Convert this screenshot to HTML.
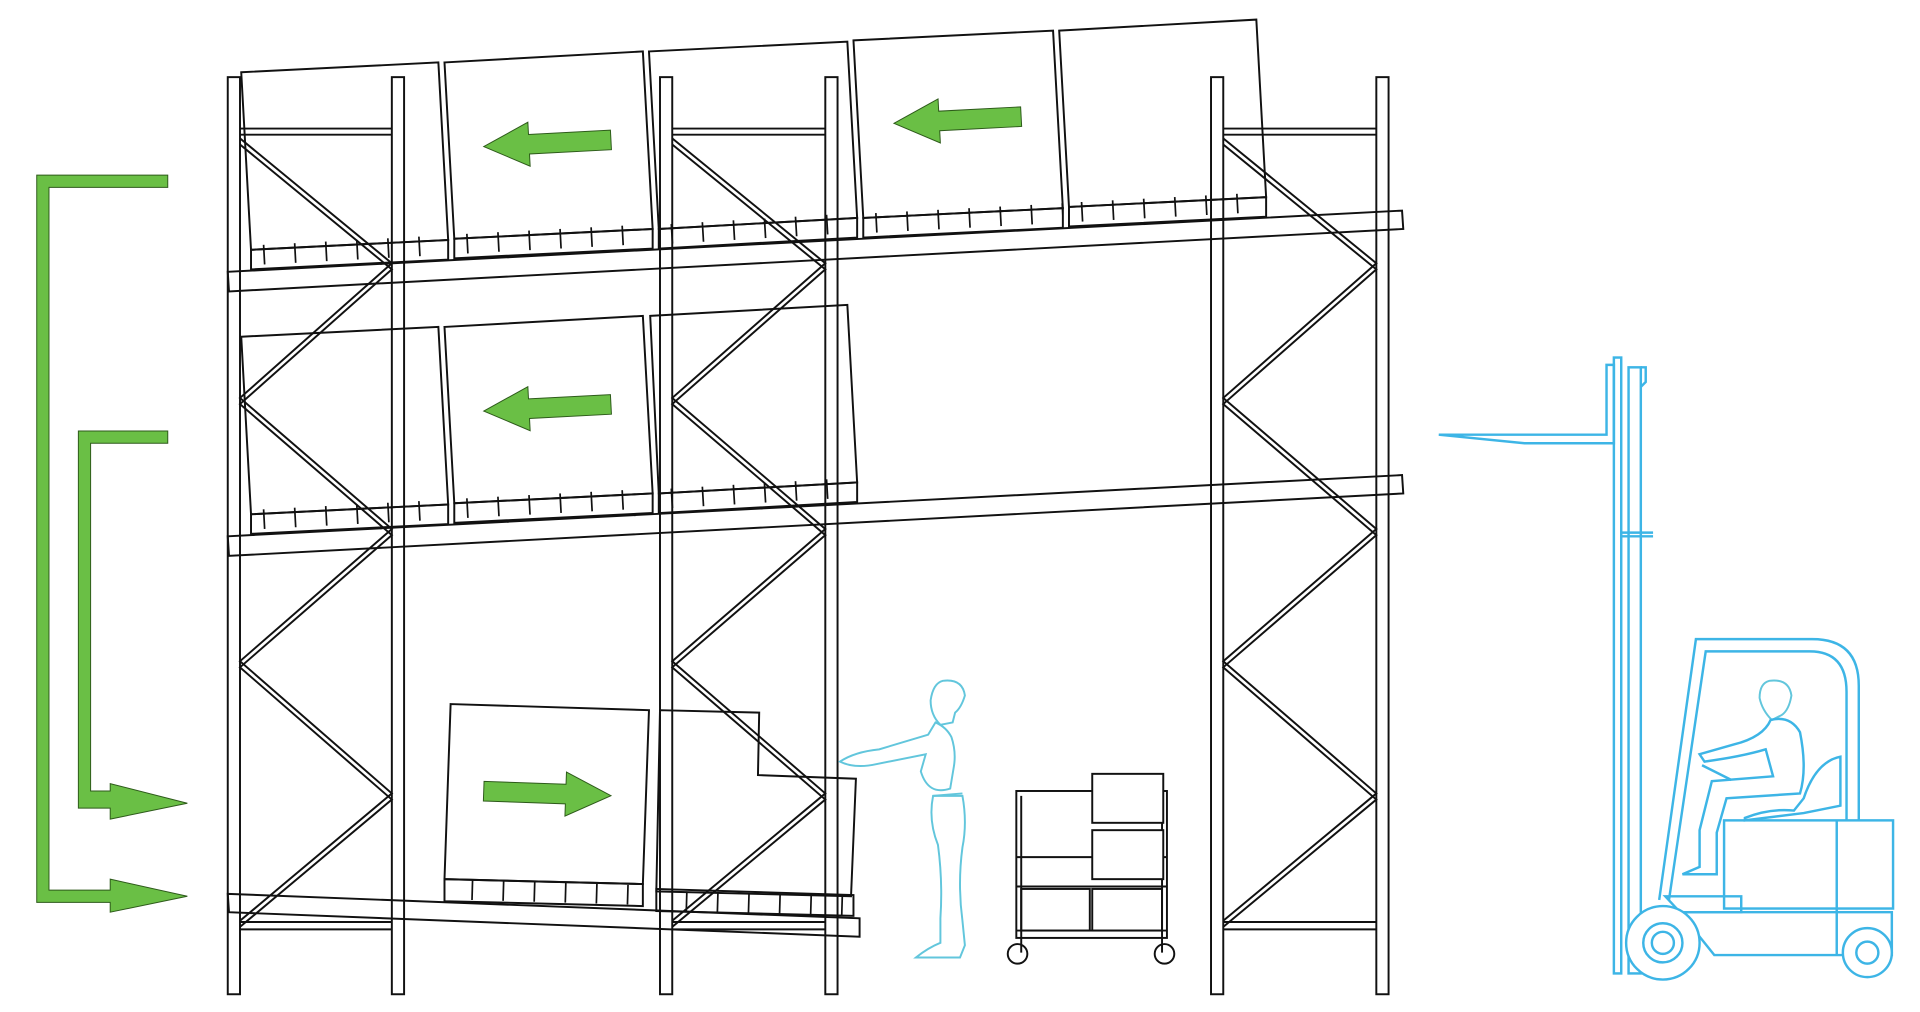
<!DOCTYPE html>
<html><head><meta charset="utf-8"><style>
html,body{margin:0;padding:0;background:#fff;width:1920px;height:1012px;overflow:hidden}
svg{display:block}
</style></head><body>
<svg width="1920" height="1012" viewBox="0 0 1568 826.5" preserveAspectRatio="none" xmlns="http://www.w3.org/2000/svg">
<g fill="none" stroke="#111" stroke-width="1.6">
<polyline points="196,113 320,215 196,325 320,432 196,540 320,648 196,752"/>
<polyline points="196,118 320,220 196,330 320,437 196,545 320,653 196,757"/>
<polyline points="549,113 674,215 549,325 674,432 549,540 674,648 549,752"/>
<polyline points="549,118 674,220 549,330 674,437 549,545 674,653 549,757"/>
<polyline points="999,113 1124,215 999,325 1124,432 999,540 1124,648 999,752"/>
<polyline points="999,118 1124,220 999,330 1124,437 999,545 1124,653 999,757"/>
<line x1="196" y1="105" x2="320" y2="105"/><line x1="196" y1="110" x2="320" y2="110"/>
<line x1="549" y1="105" x2="674" y2="105"/><line x1="549" y1="110" x2="674" y2="110"/>
<line x1="999" y1="105" x2="1124" y2="105"/><line x1="999" y1="110" x2="1124" y2="110"/>
<line x1="196" y1="753" x2="320" y2="753"/><line x1="196" y1="759" x2="320" y2="759"/>
<line x1="549" y1="753" x2="674" y2="753"/><line x1="549" y1="759" x2="674" y2="759"/>
<line x1="999" y1="753" x2="1124" y2="753"/><line x1="999" y1="759" x2="1124" y2="759"/>
<rect x="186" y="63" width="10" height="749"/><rect x="320" y="63" width="10" height="749"/>
<rect x="539" y="63" width="10" height="749"/><rect x="674" y="63" width="10" height="749"/>
<rect x="989" y="63" width="10" height="749"/><rect x="1124" y="63" width="10" height="749"/>
<polygon points="197,59 358,51 366,196 205,204"/>
<polygon points="363,51 525,42 533,187 371,195"/>
<polygon points="530,42 692,34 700,178 538,187"/>
<polygon points="697,33 860,25 868,170 705,178"/>
<polygon points="865,25 1026,16 1034,161 873,169"/>
<polygon points="205,204 366,196 366,212 205,220"/>
<polygon points="371,195 533,187 533,203 371,211"/>
<polygon points="538,187 700,178 700,194 538,203"/>
<polygon points="705,178 868,170 868,186 705,194"/>
<polygon points="873,169 1034,161 1034,177 873,185"/>
<polygon points="197,275 358,267 366,412 205,420"/>
<polygon points="363,267 525,258 533,403 371,411"/>
<polygon points="531,258 692,249 700,394 538,403"/>
<polygon points="205,420 366,412 366,428 205,436"/>
<polygon points="371,411 533,403 533,419 371,427"/>
<polygon points="538,403 700,394 700,410 538,419"/>
<polygon points="186,222 1145,172 1146,187 187,238"/>
<polygon points="186,438 1145,388 1146,403 187,454"/>
<polygon points="368,575 530,580 525,722 363,718"/>
<polygon points="363,718 525,722 525,740 363,736"/>
<polygon points="539,580 620,582 619,633 699,636 695,732 536,728"/>
<polygon points="536,726 697,731 697,748 536,744"/>
<polygon points="186,730 702,750 702,765 187,745"/>
<g stroke-width="16" stroke-dasharray="1.4 24">
<line x1="215" y1="208" x2="366" y2="200"/>
<line x1="381" y1="199" x2="533" y2="191"/>
<line x1="548" y1="191" x2="700" y2="182"/>
<line x1="715" y1="182" x2="868" y2="174"/>
<line x1="883" y1="173" x2="1034" y2="165"/>
<line x1="215" y1="424" x2="366" y2="416"/>
<line x1="381" y1="415" x2="533" y2="407"/>
<line x1="548" y1="407" x2="700" y2="398"/>
<line x1="385" y1="727" x2="525" y2="731"/>
<line x1="560" y1="736" x2="697" y2="740"/>
</g>
<rect x="830" y="646" width="123" height="120"/>
<line x1="834" y1="650" x2="834" y2="778"/><line x1="949" y1="650" x2="949" y2="778"/>
<line x1="830" y1="700" x2="953" y2="700"/><line x1="830" y1="724" x2="953" y2="724"/><line x1="830" y1="760" x2="953" y2="760"/>
<rect x="892" y="632" width="58" height="40" fill="#fff"/><rect x="892" y="678" width="58" height="40" fill="#fff"/>
<rect x="834" y="726" width="56" height="34"/><rect x="892" y="726" width="57" height="34"/>
<circle cx="831" cy="779" r="8"/><circle cx="951" cy="779" r="8"/>
</g>
<g fill="#6abf45" stroke="#2d5a1a" stroke-width="0.8">
<polygon transform="translate(447,117) rotate(-3)" points="52,-8 52,8 -15,8 -15,18 -52,0 -15,-18 -15,-8"/>
<polygon transform="translate(782,98) rotate(-3)" points="52,-8 52,8 -15,8 -15,18 -52,0 -15,-18 -15,-8"/>
<polygon transform="translate(447,333) rotate(-3)" points="52,-8 52,8 -15,8 -15,18 -52,0 -15,-18 -15,-8"/>
<polygon transform="translate(447,648) rotate(2)" points="-52,-8 -52,8 15,8 15,18 52,0 15,-18 15,-8"/>
<polygon points="30,143 137,143 137,153 40,153 40,727 90,727 90,718 153,732 90,745 90,737 30,737"/>
<polygon points="64,352 137,352 137,362 74,362 74,646 90,646 90,640 153,656 90,669 90,660 64,660"/>
</g>
<g fill="none" stroke="#62c6dc" stroke-width="1.6">
<path d="M770,556 q16,-2 18,12 q-3,10 -8,14 l-2,8 l-10,2 q-8,-8 -8,-20 q2,-14 10,-16z"/>
<path d="M764,590 l-6,10 q-20,6 -40,12 q-20,2 -32,10 q12,6 30,2 q20,-4 40,-8 l-4,14 q6,20 24,14 l3,-18 q2,-12 -2,-24 q-4,-8 -13,-12z"/>
<path d="M762,650 q-4,20 4,40 q4,30 2,60 l0,20 q-10,4 -20,12 l36,0 l4,-10 l-2,-20 q-4,-30 0,-60 q4,-20 0,-42z"/>
<line x1="762" y1="650" x2="786" y2="648"/>
<path d="M1445,556 q16,-2 18,12 q-2,12 -8,16 l-8,4 q-8,-8 -10,-18 q0,-12 8,-14z"/>
</g>
<g fill="none" stroke="#3db5e6" stroke-width="2">
<path d="M1175,355 L1312,355 L1312,298 L1318,298 L1318,362 L1245,362 Z"/>
<rect x="1318" y="292" width="6" height="503"/><rect x="1330" y="300" width="10" height="495"/>
<line x1="1324" y1="435" x2="1350" y2="435"/><line x1="1324" y1="438" x2="1350" y2="438"/>
<path d="M1340,300 l4,0 l0,12 l-4,4"/>
<path d="M1355,735 L1385,522 L1480,522 Q1518,522 1518,560 L1518,670 M1363,735 L1393,532 L1478,532 Q1508,532 1508,565 L1508,670"/>
<rect x="1408" y="670" width="138" height="72"/>
<path d="M1360,732 L1422,732 L1422,745 L1372,745 Z"/>
<path d="M1372,745 L1545,745 L1545,780 L1400,780 Z"/>
<path d="M1500,670 L1500,780"/>
<circle cx="1358" cy="770" r="30" fill="#fff"/><circle cx="1358" cy="770" r="16"/><circle cx="1358" cy="770" r="9"/>
<circle cx="1525" cy="778" r="20" fill="#fff"/><circle cx="1525" cy="778" r="9"/>
<path d="M1425,668 q20,-8 40,-6 l8,-10 q10,-30 30,-34 l0,40 l-30,6 l-48,6 z"/>
<path d="M1446,588 q-6,14 -30,20 q-14,4 -28,8 l4,6 q30,-4 50,-10 l6,22 l-50,4 l-10,40 l0,30 l-14,6 l28,0 l0,-34 l8,-28 l60,-4 q6,-20 0,-50 q-8,-14 -24,-10z"/>
<path d="M1390,625 l24,12"/>
</g>
</svg>
</body></html>
